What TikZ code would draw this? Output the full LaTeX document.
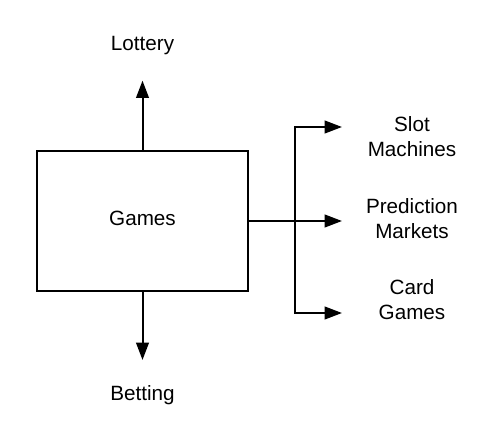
\documentclass[tikz,border=0pt]{standalone}
\usepackage{fontspec}
\setmainfont{Liberation Sans}
\usetikzlibrary{arrows.meta}

\begin{document}
\begin{tikzpicture}[x=0.75pt, y=-0.75pt, line width=1.5pt,
  arr/.style={-{Triangle[length=13pt, width=9.5pt]}},
  txt/.style={align=center, inner sep=0pt, font=\fontsize{15.5}{18.75}\selectfont}]
\useasboundingbox (0,0) rectangle (504,442);

% nodes
\node [draw, txt, text depth=4.5pt, minimum width=158.25pt, minimum height=105pt] (games) at (142.5,221) {Games};
\node [txt] (lottery) at (142.5,46) {Lottery};
\node [txt] (betting) at (142.5,395) {Betting};
\node [txt] (slot) at (412,136.5) {Slot\\Machines};
\node [txt] (prediction) at (412,218.5) {Prediction\\Markets};
\node [txt] (card) at (412,300) {Card\\Games};

\coordinate (split) at (295,221);
\coordinate (slottip) at (342,127);
\coordinate (predtip) at (342,221);
\coordinate (cardtip) at (342,313);

% arrows
\draw [arr, shorten >=18.3pt] (games.north) -- (lottery);
\draw [arr, shorten >=18.3pt] (games.south) -- (betting);
\draw [arr] (games.east) -- (predtip);
\draw [arr] (split) |- (slottip);
\draw [arr] (split) |- (cardtip);

\end{tikzpicture}
\end{document}
